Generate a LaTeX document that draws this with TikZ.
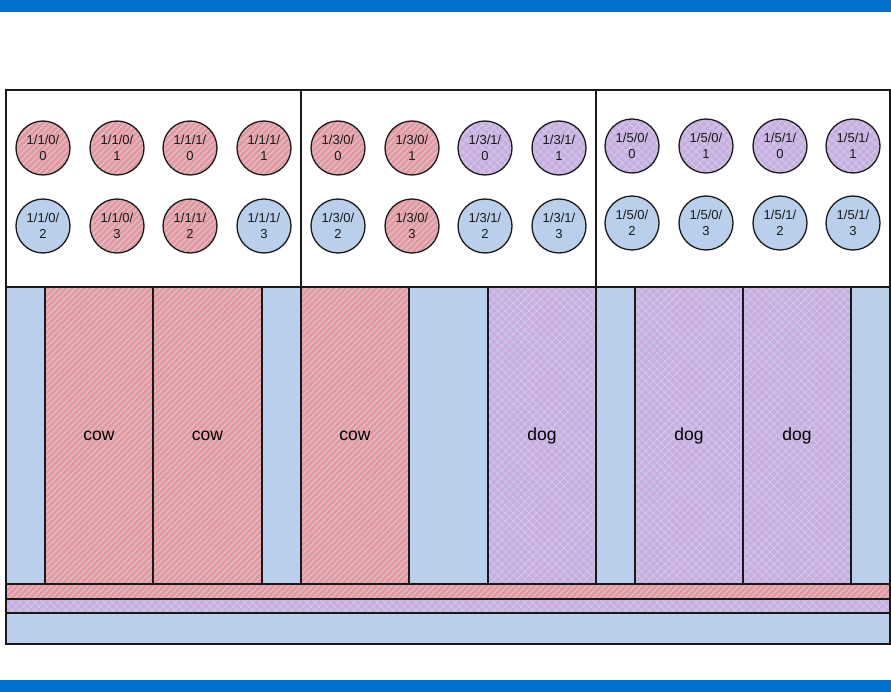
\documentclass[tikz,border=0pt]{standalone}
\usepackage{fontspec}
\setmainfont{Liberation Sans}
\usetikzlibrary{patterns.meta}
\definecolor{barblue}{RGB}{0,114,206}
\definecolor{redf}{RGB}{232,152,152}
\definecolor{purf}{RGB}{202,172,222}
\definecolor{bluef}{RGB}{185,207,235}
\definecolor{hatch}{RGB}{206,204,236}
\definecolor{edge}{RGB}{25,25,25}
\begin{document}
\begin{tikzpicture}[x=1pt,y=-1pt,
  box/.style={draw=edge, line width=1.3pt, inner sep=0pt, outer sep=0pt, anchor=north west, font=\fontsize{17.5}{20}\selectfont},
  bluebox/.style={box, fill=bluef},
  whitebox/.style={box, fill=white},
  redpat/.style={preaction={fill=redf}, preaction={pattern={Lines[angle=45,distance=4.3pt,line width=0.9pt]}, pattern color=hatch}},
  purpat/.style={preaction={fill=purf}, preaction={pattern={Lines[angle=45,distance=5.5pt,line width=0.8pt]}, pattern color=hatch}, preaction={pattern={Lines[angle=-45,distance=5.5pt,line width=0.8pt]}, pattern color=hatch}},
  redbox/.style={box, redpat},
  purbox/.style={box, purpat},
  disc/.style={circle, draw=edge, line width=1.3pt, minimum size=54pt, inner sep=0pt, align=center, text=black!90, font=\fontsize{13}{15.5}\selectfont},
  bdisc/.style={disc, fill=bluef},
  rdisc/.style={disc, redpat},
  pdisc/.style={disc, purpat},
  bar/.style={fill=barblue, draw=none, inner sep=0pt, outer sep=0pt, anchor=north west}
]
\useasboundingbox (0,0) rectangle (891,692);
% blue bars
\node[bar, minimum width=891pt, minimum height=12pt] (topbar) at (0,0) {};
\node[bar, minimum width=891pt, minimum height=12pt] (botbar) at (0,680) {};
% top panels
\node[whitebox, minimum width=295pt, minimum height=197pt] (panel1) at (6,90) {};
\node[whitebox, minimum width=295pt, minimum height=197pt] (panel3) at (301,90) {};
\node[whitebox, minimum width=294pt, minimum height=197pt] (panel5) at (596,90) {};
% columns
\node[bluebox, minimum width=39pt,  minimum height=297pt] (col1)  at (6,287)   {};
\node[redbox,  minimum width=108pt, minimum height=297pt] (col2)  at (45,287)  {cow};
\node[redbox,  minimum width=109pt, minimum height=297pt] (col3)  at (153,287) {cow};
\node[bluebox, minimum width=39pt,  minimum height=297pt] (col4)  at (262,287) {};
\node[redbox,  minimum width=108pt, minimum height=297pt] (col5)  at (301,287) {cow};
\node[bluebox, minimum width=79pt,  minimum height=297pt] (col6)  at (409,287) {};
\node[purbox,  minimum width=108pt, minimum height=297pt] (col7)  at (488,287) {dog};
\node[bluebox, minimum width=39pt,  minimum height=297pt] (col8)  at (596,287) {};
\node[purbox,  minimum width=108pt, minimum height=297pt] (col9)  at (635,287) {dog};
\node[purbox,  minimum width=108pt, minimum height=297pt] (col10) at (743,287) {dog};
\node[bluebox, minimum width=39pt,  minimum height=297pt] (col11) at (851,287) {};
% strips
\node[redbox,  minimum width=884pt, minimum height=15pt] (strip1) at (6,584) {};
\node[purbox,  minimum width=884pt, minimum height=14pt] (strip2) at (6,599) {};
\node[bluebox, minimum width=884pt, minimum height=31pt] (strip3) at (6,613) {};
% circles panel 1/1
\node[rdisc] (d110a) at (43,148)  {1/1/0/\\0};
\node[rdisc] (d110b) at (117,148) {1/1/0/\\1};
\node[rdisc] (d111a) at (190,148) {1/1/1/\\0};
\node[rdisc] (d111b) at (264,148) {1/1/1/\\1};
\node[bdisc] (d110c) at (43,226)  {1/1/0/\\2};
\node[rdisc] (d110d) at (117,226) {1/1/0/\\3};
\node[rdisc] (d111c) at (190,226) {1/1/1/\\2};
\node[bdisc] (d111d) at (264,226) {1/1/1/\\3};
% circles panel 1/3
\node[rdisc] (d130a) at (338,148) {1/3/0/\\0};
\node[rdisc] (d130b) at (412,148) {1/3/0/\\1};
\node[pdisc] (d131a) at (485,148) {1/3/1/\\0};
\node[pdisc] (d131b) at (559,148) {1/3/1/\\1};
\node[bdisc] (d130c) at (338,226) {1/3/0/\\2};
\node[rdisc] (d130d) at (412,226) {1/3/0/\\3};
\node[bdisc] (d131c) at (485,226) {1/3/1/\\2};
\node[bdisc] (d131d) at (559,226) {1/3/1/\\3};
% circles panel 1/5
\node[pdisc] (d150a) at (632,146) {1/5/0/\\0};
\node[pdisc] (d150b) at (706,146) {1/5/0/\\1};
\node[pdisc] (d151a) at (780,146) {1/5/1/\\0};
\node[pdisc] (d151b) at (853,146) {1/5/1/\\1};
\node[bdisc] (d150c) at (632,223) {1/5/0/\\2};
\node[bdisc] (d150d) at (706,223) {1/5/0/\\3};
\node[bdisc] (d151c) at (780,223) {1/5/1/\\2};
\node[bdisc] (d151d) at (853,223) {1/5/1/\\3};
\end{tikzpicture}
\end{document}
